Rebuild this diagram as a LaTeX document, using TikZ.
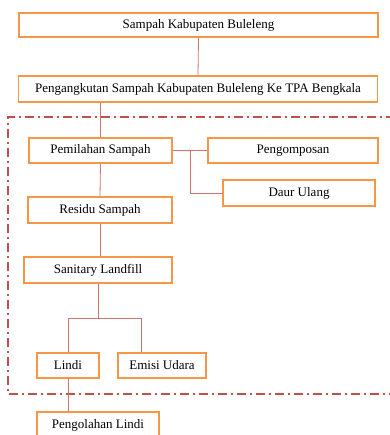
\documentclass[tikz,border=0pt]{standalone}
\usepackage{fontspec}
\setmainfont{Liberation Serif}
\usepackage{tikz}
\usetikzlibrary{calc}

\definecolor{boxorange}{HTML}{F79646}
\definecolor{linered}{HTML}{C0504D}

\begin{document}
\begin{tikzpicture}[x=1pt, y=-1pt, font=\fontsize{13}{15}\selectfont,
    tahap/.style={draw=boxorange, line width=1.8pt, fill=white, rectangle,
                  inner sep=0pt},
    garis/.style={draw=linered!80, line width=0.8pt}]

  % --- Page frame ---
  \useasboundingbox (0,0) rectangle (389,435);

  % --- Top stages ---
  \node[tahap, minimum width=359pt, minimum height=24pt] (sampah) at (198.5,25)
    {Sampah Kabupaten Buleleng};
  \node[tahap, minimum width=359pt, minimum height=26pt] (angkut) at (198,89)
    {Pengangkutan Sampah Kabupaten Buleleng Ke TPA Bengkala};

  % --- TPA boundary (dash-dot) ---
  \draw[linered, line width=1.8pt, dash pattern=on 9pt off 4pt on 2pt off 4pt]
    (395,117) -- (8,117) -- (8,394) -- (395,394);

  % --- Inside the TPA ---
  \node[tahap, minimum width=143pt, minimum height=25pt] (pilah) at (100.5,150.5)
    {Pemilahan Sampah};
  \node[tahap, minimum width=170pt, minimum height=25pt] (kompos) at (293,150.5)
    {Pengomposan};
  \node[tahap, minimum width=152pt, minimum height=26pt] (daur) at (299,193)
    {Daur Ulang};
  \node[tahap, minimum width=144pt, minimum height=26pt] (residu) at (100,210)
    {Residu Sampah};
  \node[tahap, minimum width=148pt, minimum height=26pt] (landfill) at (98,270)
    {Sanitary Landfill};
  \node[tahap, minimum width=62pt, minimum height=25pt] (lindi) at (68,365.5)
    {Lindi};
  \node[tahap, minimum width=88pt, minimum height=25pt] (emisi) at (162,365.5)
    {Emisi Udara};

  % --- Leachate treatment (below the boundary) ---
  \node[tahap, minimum width=122pt, minimum height=26pt] (olah) at (98,425)
    {Pengolahan Lindi};

  % --- Helper points for the branches ---
  \coordinate (cabPilah) at ($(pilah.east)!0.5!(kompos.west)$);
  \coordinate (cabLandfill) at ($(landfill.south)+(0,34)$);
  \coordinate (kakiEmisi) at ($(emisi.north)+(-21,0)$);

  % --- Connectors ---
  \draw[garis] (sampah.south) -- (angkut.north);
  \draw[garis] (angkut.south -| pilah.north) -- (pilah.north);
  \draw[garis] (pilah.east) -- (kompos.west);
  \draw[garis] (cabPilah) |- (daur.west);
  \draw[garis] (pilah.south) -- (residu.north);
  \draw[garis] (residu.south) -- (residu.south |- landfill.north);
  \draw[garis] (landfill.south) -- (cabLandfill);
  \draw[garis] (lindi.north) |- (cabLandfill) -| (kakiEmisi);
  \draw[garis] (lindi.south) -- (lindi.south |- olah.north);

\end{tikzpicture}
\end{document}
